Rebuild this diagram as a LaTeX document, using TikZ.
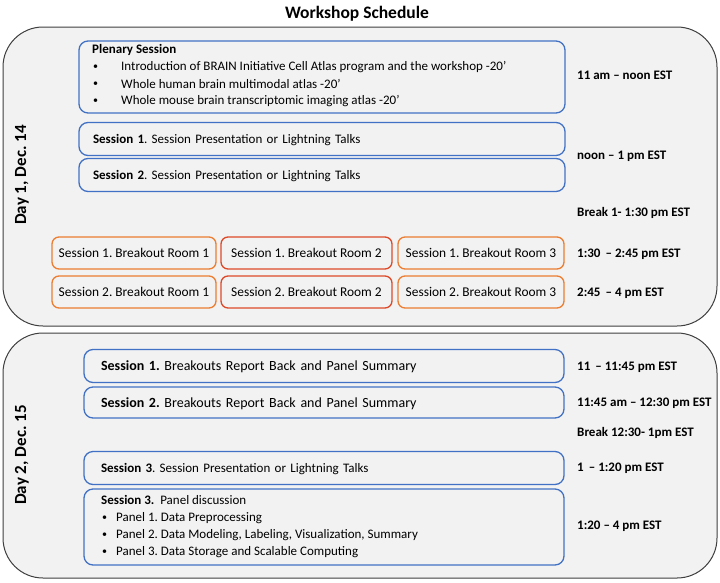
\documentclass[tikz,border=0pt]{standalone}
\usepackage{fontspec}
\setmainfont{Carlito}
\definecolor{boxfill}{HTML}{F2F2F2}
\definecolor{outerline}{HTML}{3F3F3F}
\definecolor{blueline}{RGB}{65,113,196}
\definecolor{orangeline}{RGB}{237,125,49}
\definecolor{redline}{RGB}{222,72,40}
\begin{document}
\frenchspacing
\begin{tikzpicture}[x=1pt,y=-1pt,
  every node/.style={font=\fontsize{13}{15}\selectfont, inner sep=0pt},
  outerbox/.style={draw=outerline, fill=boxfill, line width=1pt, rounded corners=40pt},
  bluebox/.style={draw=blueline, fill=boxfill, line width=1.3pt, rounded corners=9pt},
  sessbox/.style={bluebox, minimum height=33pt, text width=#1, align=left, inner xsep=14pt, text depth=0pt},
  orbox/.style={draw=orangeline, fill=boxfill, line width=1.3pt, rounded corners=7pt, minimum height=32pt, font=\fontsize{13.4}{16}\selectfont, text depth=0pt},
  timelbl/.style={anchor=west, font=\fontsize{13}{15}\selectfont\bfseries},
  daylbl/.style={rotate=90, font=\fontsize{17}{19}\selectfont\bfseries},
  txt/.style={anchor=west},
  bul/.style={anchor=west, font=\fontsize{10}{12}\selectfont}
]
\useasboundingbox (0,0) rectangle (720,582);
% title
\node[font=\fontsize{17.5}{19}\selectfont\bfseries] (title) at (357,14) {Workshop Schedule};
% outer boxes
\draw[outerbox] (3,27) rectangle (717,326);
\draw[outerbox] (3,333) rectangle (717,578);
\node[daylbl] (day1) at (22,175) {Day 1, Dec. 14};
\node[daylbl] (day2) at (22,455) {Day 2, Dec. 15};
% Day 1
\node[bluebox, minimum width=486pt, minimum height=72pt] (plen) at (322,77) {};
\node[txt, font=\fontsize{13}{15}\selectfont\bfseries] (plent) at (92,50) {Plenary Session};
\node[bul] (b1) at (93,67) {•};
\node[bul] (b2) at (93,84) {•};
\node[bul] (b3) at (93,101) {•};
\node[txt] (p1) at (121,67) {Introduction of BRAIN Initiative Cell Atlas program and the workshop -20’};
\node[txt] (p2) at (121,84) {Whole human brain multimodal atlas -20’};
\node[txt] (p3) at (121,101) {Whole mouse brain transcriptomic imaging atlas -20’};
\node[sessbox=458pt] (s1) at (322,139) {\textbf{Session 1}. Session Presentation or Lightning Talks};
\node[sessbox=458pt] (s2) at (322,175) {\textbf{Session 2}. Session Presentation or Lightning Talks};
\node[timelbl] (t1) at (577,75) {11 am – noon EST};
\node[timelbl] (t2) at (577,156) {noon – 1 pm EST};
\node[timelbl] (t3) at (577,213) {Break 1- 1:30 pm EST};
\node[orbox, minimum width=164pt] (r11) at (134,253) {Session 1. Breakout Room 1};
\node[orbox, draw=redline, minimum width=171pt] (r12) at (306.5,253) {Session 1. Breakout Room 2};
\node[orbox, minimum width=166pt] (r13) at (481,253) {Session 1. Breakout Room 3};
\node[orbox, minimum width=164pt] (r21) at (134,292) {Session 2. Breakout Room 1};
\node[orbox, draw=redline, minimum width=171pt] (r22) at (306.5,292) {Session 2. Breakout Room 2};
\node[orbox, minimum width=166pt] (r23) at (481,292) {Session 2. Breakout Room 3};
\node[timelbl] (t4) at (577,254) {1:30 \,– 2:45 pm EST};
\node[timelbl] (t5) at (577,293) {2:45 \,– 4 pm EST};
% Day 2
\node[sessbox=446pt, inner xsep=17pt, font=\fontsize{14}{16}\selectfont] (d1) at (324,366) {\textbf{Session 1.} Breakouts Report Back and Panel Summary};
\node[sessbox=446pt, inner xsep=17pt, minimum height=31pt, font=\fontsize{14}{16}\selectfont] (d2) at (324,402.5) {\textbf{Session 2.} Breakouts Report Back and Panel Summary};
\node[sessbox=446pt, inner xsep=17pt] (d3) at (324,468) {\textbf{Session 3}. Session Presentation or Lightning Talks};
\node[bluebox, minimum width=480pt, minimum height=76pt] (d4) at (324,527) {};
\node[txt] (d4t) at (101,500) {\textbf{Session 3.}\ \ Panel discussion};
\node[bul] (c1) at (102,518) {•};
\node[bul] (c2) at (102,535) {•};
\node[bul] (c3) at (102,552) {•};
\node[txt] (q1) at (116,518) {Panel 1. Data Preprocessing};
\node[txt] (q2) at (116,535) {Panel 2. Data Modeling, Labeling, Visualization, Summary};
\node[txt] (q3) at (116,552) {Panel 3. Data Storage and Scalable Computing};
\node[timelbl] (u1) at (577,367) {11 \,– 11:45 pm EST};
\node[timelbl] (u2) at (577,403) {11:45 am – 12:30 pm EST};
\node[timelbl] (u3) at (577,433) {Break 12:30- 1pm EST};
\node[timelbl] (u4) at (577,468) {1 \,– 1:20 pm EST};
\node[timelbl] (u5) at (577,526) {1:20 – 4 pm EST};
\end{tikzpicture}
\end{document}
